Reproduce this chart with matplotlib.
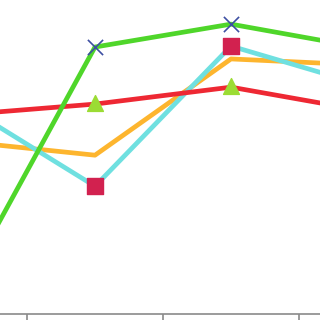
import matplotlib
matplotlib.use("Agg")
import matplotlib.pyplot as plt

x = [0, 1, 2, 3]
green = [5.8, 85.0, 92.3, 84.5]
red = [63.3, 66.8, 72.2, 64.5]
cyan = [67.4, 40.6, 85.3, 72.5]
orange = [55.0, 50.5, 81.2, 79.2]
mark_x = [1, 2]
tick_pos = [0.5, 1.5, 2.5]

fig = plt.figure(figsize=(3.2, 3.2), dpi=100)
ax = fig.add_axes([0, 6.5 / 320, 1, 313.5 / 320])
lw = 3.4
ax.plot(x, orange, color="#fdb52e", lw=lw, zorder=2)
ax.plot(x, cyan, color="#6fe0e0", lw=lw, zorder=3)
ax.plot(x, red, color="#ee2833", lw=lw, zorder=4)
ax.plot(x, green, color="#4fd62a", lw=lw, zorder=5)

ax.scatter(mark_x, [green[i] for i in mark_x], marker="x", s=120, color="#3d4fa3", linewidths=1.2, zorder=6)
ax.scatter(mark_x, [red[i] + 0.5 for i in mark_x], marker="^", s=130, color="#9bdc34", zorder=6)
ax.scatter(mark_x, [cyan[i] for i in mark_x], marker="s", s=125, color="#d2214f", zorder=6)

ax.set_xlim(1 - 95 / 136, 1 + 225 / 136)
ax.set_ylim(0, 100)
ax.set_xticks(tick_pos)
ax.set_xticklabels([])
ax.set_yticks([])
for s in ["top", "right", "left"]:
    ax.spines[s].set_visible(False)
ax.spines["bottom"].set_color("#8a8a8a")
ax.spines["bottom"].set_linewidth(1.2)
ax.tick_params(axis="x", direction="out", length=5, width=1.2, color="#8a8a8a")
ax.patch.set_alpha(0)
fig.savefig("out.png", dpi=100)
